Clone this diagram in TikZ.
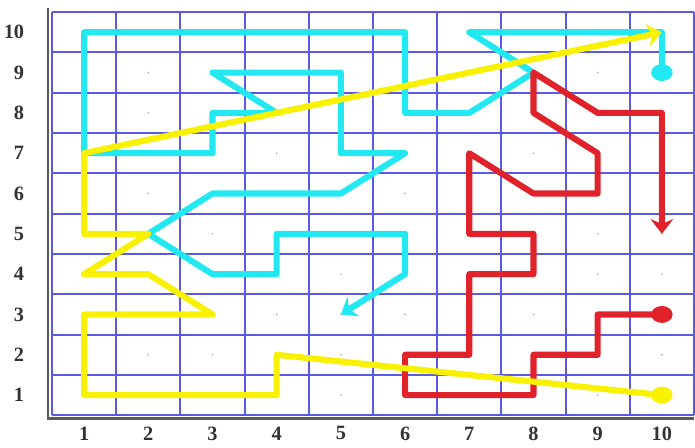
\documentclass[tikz,border=0pt]{standalone}
\usepackage{fontspec}
\setmainfont{Liberation Serif}
\usepackage{xcolor}
\definecolor{gridblue}{HTML}{5A5AE6}
\definecolor{axisgray}{HTML}{5A5A5A}
\definecolor{labelink}{HTML}{333333}
\definecolor{cCyan}{HTML}{22E8F2}
\definecolor{cYellow}{HTML}{F8F200}
\definecolor{cRed}{HTML}{E0222A}
\usetikzlibrary{arrows.meta,shapes.geometric}
\tikzset{
  gridline/.style={gridblue,line width=0.9pt},
  axisline/.style={axisgray,line width=1pt},
  route/.style={line width=2.7pt,line join=round},
  tipped/.style={-{Stealth[length=6.5pt,width=10pt]}},
  ball/.style={ellipse,inner sep=0pt,minimum width=9.5pt,minimum height=7.5pt},
  lbl/.style={font=\bfseries\fontsize{9}{10}\selectfont,text=labelink}}

\begin{document}
\begin{tikzpicture}[x=1cm,y=0.628cm]
  \useasboundingbox (-0.31,-0.294) rectangle (10.516,10.80);
  % grid and axes
  \foreach \k in {0,...,10} {
    \draw[gridline] (\k+0.5,0.5) -- (\k+0.5,10.5);
    \draw[gridline] (0.5,\k+0.5) -- (10.5,\k+0.5);
  }
  \draw[axisline] (0.44,10.6) -- (0.44,0.42) -- (10.5,0.42);
  \foreach \c in {1,...,10} \foreach \r in {1,...,10} {
    \coordinate (p-\c-\r) at (\c,\r);
    \fill[gray!70] (p-\c-\r) circle (0.4pt);
  }
  \foreach \k in {1,...,10} {
    \node[lbl,anchor=east] (ylab-\k) at (0.19,\k) {\k};
    \node[lbl] (xlab-\k) at (\k,0.05) {\k};
  }
  % cyan route
  \draw[route,cCyan,tipped] (p-10-9) -- (p-10-10) -- (p-7-10) -- (p-8-9)
    -- (p-7-8) -- (p-6-8) -- (p-6-10) -- (p-1-10) -- (p-1-7) -- (p-3-7)
    -- (p-3-8) -- (p-4-8) -- (p-3-9) -- (p-5-9) -- (p-5-7) -- (p-6-7)
    -- (p-5-6) -- (p-3-6) -- (p-2-5) -- (p-3-4) -- (p-4-4) -- (p-4-5)
    -- (p-6-5) -- (p-6-4) -- (p-5-3);
  \node[ball,fill=cCyan] (cstart) at (p-10-9) {};
  % red route
  \draw[route,cRed,tipped] (p-10-3) -- (p-9-3) -- (p-9-2) -- (p-8-2)
    -- (p-8-1) -- (p-6-1) -- (p-6-2) -- (p-7-2) -- (p-7-4) -- (p-8-4)
    -- (p-8-5) -- (p-7-5) -- (p-7-7) -- (p-8-6) -- (p-9-6) -- (p-9-7)
    -- (p-8-8) -- (p-8-9) -- (p-9-8) -- (p-10-8) -- (p-10-5);
  \node[ball,fill=cRed] (rstart) at (p-10-3) {};
  % yellow route
  \draw[route,cYellow,tipped] (p-10-1) -- (p-4-2) -- (p-4-1) -- (p-1-1)
    -- (p-1-3) -- (p-3-3) -- (p-2-4) -- (p-1-4) -- (p-2-5) -- (p-1-5)
    -- (p-1-7) -- (p-10-10);
  \node[ball,fill=cYellow] (ystart) at (p-10-1) {};
\end{tikzpicture}
\end{document}
